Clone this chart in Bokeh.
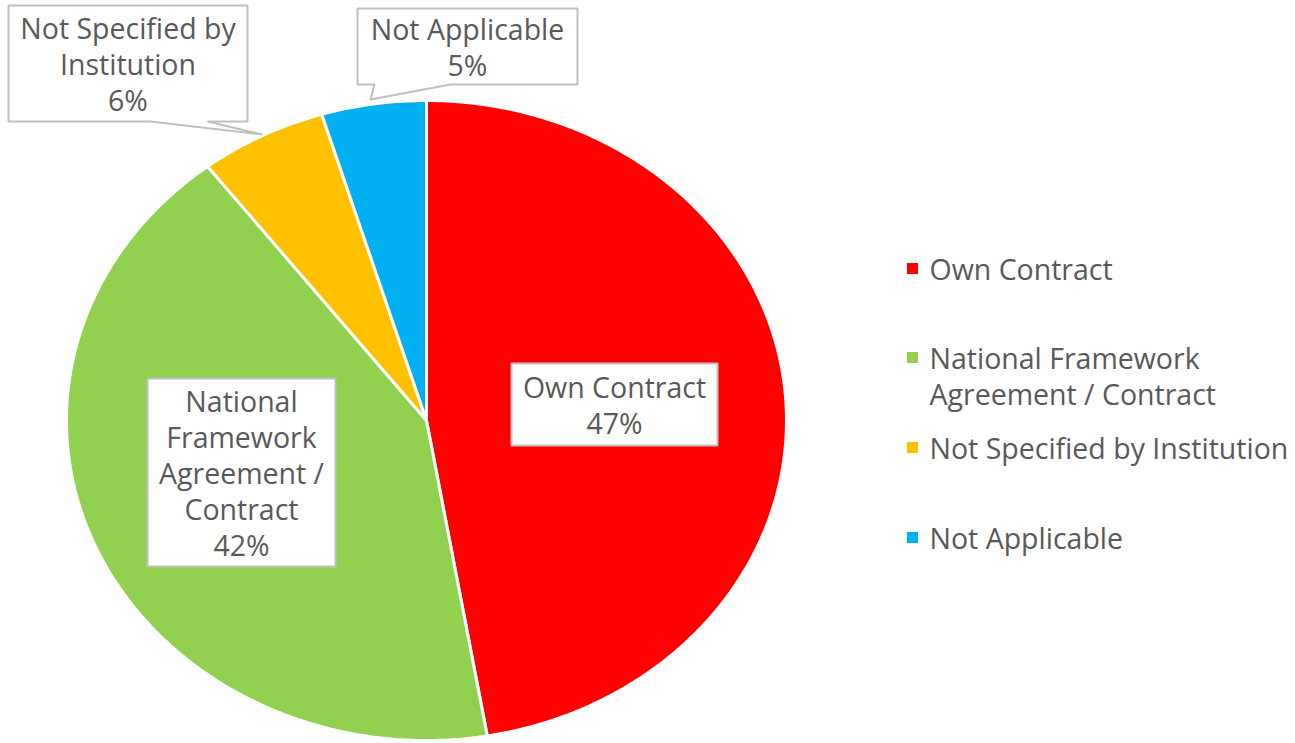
import math
from bokeh.plotting import figure
from bokeh.models import Range1d
from bokeh.core.properties import value
from bokeh.embed import file_html
from bokeh.resources import INLINE

# ---- data ----
categories = ["Own Contract", "National Framework Agreement / Contract",
              "Not Specified by Institution", "Not Applicable"]
shares = [47.3, 42.3, 5.7, 4.7]
colors = ["#FF0000", "#92D050", "#FFC000", "#00B0F0"]
label_names = ["Own Contract", "National\nFramework\nAgreement /\nContract",
               "Not Specified by\nInstitution", "Not Applicable"]
legend_texts = ["Own Contract", "National Framework\nAgreement / Contract",
                "Not Specified by Institution", "Not Applicable"]

# ---- layout (page pixel coordinates, y downward) ----
W, H = 1295, 743
CX, CY, RX, RY = 426, 420, 360, 320
FONT = value("Open Sans")
TXT = "#595959"
FS = "28.5px"
LINE = 36.0
# label box: (x0, y0, x1, y1, pointer) pointer = (base_a, base_b, tip_x, tip_y) on bottom edge
label_boxes = [
    (511, 363, 717, 445, None),
    (147, 378, 335, 566, None),
    (8, 5, 247, 121, (150, 207, 262, 134)),
    (357, 8, 577, 84, (374, 450, 370, 99)),
]
legend_x = 912
legend_text_y = [268, 375, 447, 537]

p = figure(width=W, height=H, x_range=Range1d(0, W), y_range=Range1d(H, 0),
           output_backend="svg", toolbar_location=None, min_border=0)
p.axis.visible = False
p.grid.visible = False
p.outline_line_color = None
p.background_fill_color = "white"
p.border_fill_color = "white"

# ---- pie slices (ellipse in screen space), clockwise from 12 o'clock ----
total = float(sum(shares))
xs, ys = [], []
cum = 0.0
for s in shares:
    a0 = cum / total * 2 * math.pi
    a1 = (cum + s) / total * 2 * math.pi
    n = max(8, int(s * 4))
    px, py = [CX], [CY]
    for i in range(n + 1):
        t = a0 + (a1 - a0) * i / n
        px.append(CX + RX * math.sin(t))
        py.append(CY - RY * math.cos(t))
    xs.append(px)
    ys.append(py)
    cum += s
p.patches(xs=xs, ys=ys, fill_color=colors, line_color="white", line_width=3)


def split_lines(texts, cxs, cys):
    lx, ly, lt = [], [], []
    for t, cx, cy in zip(texts, cxs, cys):
        parts = t.split("\n")
        k = len(parts)
        for i, part in enumerate(parts):
            lx.append(cx)
            ly.append(cy + (i - (k - 1) / 2) * LINE)
            lt.append(part)
    return lx, ly, lt


# ---- data label boxes ----
label_texts = [f"{nm}\n{round(v / total * 100)}%" for nm, v in zip(label_names, shares)]
bxs, bys, tx, ty = [], [], [], []
for (x0, y0, x1, y1, ptr) in label_boxes:
    if ptr is None:
        bx = [x0, x1, x1, x0]
        by = [y0, y0, y1, y1]
    else:
        ba, bb, tipx, tipy = ptr
        bx = [x0, x1, x1, bb, tipx, ba, x0]
        by = [y0, y0, y1, y1, tipy, y1, y1]
    bxs.append(bx)
    bys.append(by)
    tx.append((x0 + x1) / 2)
    ty.append((y0 + y1) / 2)
p.patches(xs=bxs, ys=bys, fill_color="white", line_color="#BFBFBF", line_width=2)
lx, ly, lt = split_lines(label_texts, tx, ty)
p.text(x=lx, y=ly, text=lt, text_align="center", text_baseline="middle",
       text_font=FONT, text_font_size=FS, text_color=TXT)

# ---- legend ----
mk_y = [y - t.count("\n") * LINE / 2 for y, t in zip(legend_text_y, legend_texts)]
p.scatter(x=[legend_x] * len(categories), y=mk_y, marker="square", size=11,
          fill_color=colors, line_color=None)
gx, gy, gt = split_lines(legend_texts, [legend_x + 17] * len(categories), legend_text_y)
p.text(x=gx, y=gy, text=gt, text_align="left", text_baseline="middle",
       text_font=FONT, text_font_size=FS, text_color=TXT)

open("out.html", "w").write(file_html(p, INLINE))
